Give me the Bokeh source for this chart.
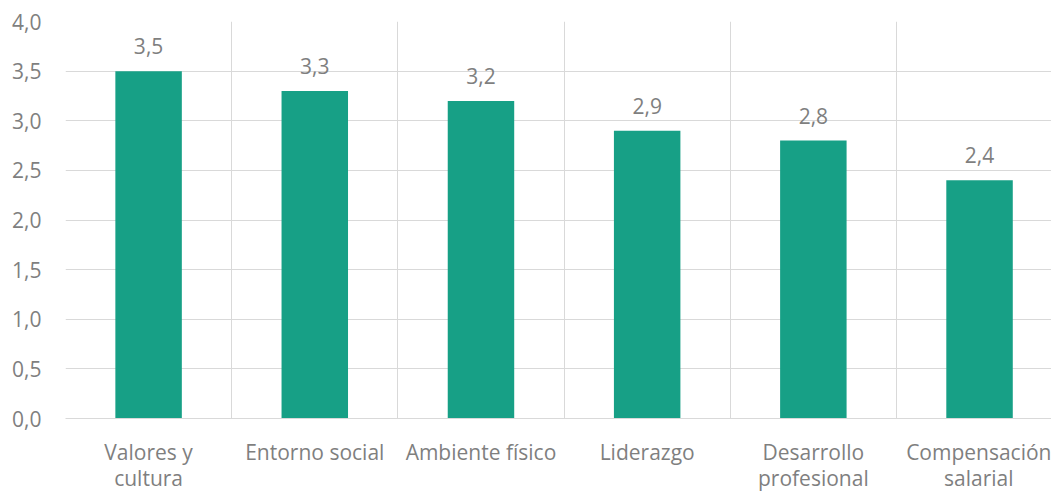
from bokeh.plotting import figure
from bokeh.models import Range1d, FixedTicker, CustomJSTickFormatter, ColumnDataSource
from bokeh.core.properties import value
from bokeh.embed import file_html
from bokeh.resources import INLINE

categories = ["Valores y\ncultura", "Entorno social", "Ambiente físico", "Liderazgo",
              "Desarrollo\nprofesional", "Compensación\nsalarial"]
values = [3.5, 3.3, 3.2, 2.9, 2.8, 2.4]
y_ticks = [0.0, 0.5, 1.0, 1.5, 2.0, 2.5, 3.0, 3.5, 4.0]

FONT = "Open Sans"
FS = "21px"
TEXT_COLOR = "#7f7f7f"
GRID = "#d9d9d9"
BAR = "#17a086"

xs = [i + 0.5 for i in range(len(categories))]
labels = [f"{v:.1f}".replace(".", ",") for v in values]
src = ColumnDataSource(dict(x=xs, top=values, label=labels))

p = figure(width=1051, height=495, output_backend="svg", toolbar_location=None,
           x_range=Range1d(0, 5.933), y_range=Range1d(0, 4.0),
           min_border_left=65, min_border_right=0, min_border_top=21, min_border_bottom=74)
p.outline_line_color = None
p.background_fill_color = "white"

p.vbar(x="x", top="top", width=0.4, bottom=0, source=src, color=BAR, line_color=None)
p.text(x="x", y="top", text="label", source=src, text_align="center", text_baseline="middle",
       y_offset=-25, text_font=value(FONT), text_font_size=FS, text_color=TEXT_COLOR)

# grids
p.xgrid.ticker = FixedTicker(ticks=list(range(len(categories) + 1)))
p.xgrid.grid_line_color = GRID
p.ygrid.ticker = FixedTicker(ticks=y_ticks)
p.ygrid.grid_line_color = GRID

# y axis
p.yaxis.ticker = FixedTicker(ticks=y_ticks)
p.yaxis.formatter = CustomJSTickFormatter(code="return tick.toFixed(1).replace('.', ',');")
p.yaxis.axis_line_color = None
p.yaxis.major_tick_line_color = None
p.yaxis.minor_tick_line_color = None
p.yaxis.major_tick_out = 0
p.yaxis.major_label_standoff = 24
p.yaxis.major_label_text_font = FONT
p.yaxis.major_label_text_font_size = FS
p.yaxis.major_label_text_color = TEXT_COLOR

# x axis
p.xaxis.ticker = FixedTicker(ticks=xs)
p.xaxis.formatter = CustomJSTickFormatter(args=dict(labels=categories),
                                          code="return labels[Math.round(tick - 0.5)];")
p.xaxis.axis_line_color = GRID
p.xaxis.major_tick_line_color = None
p.xaxis.minor_tick_line_color = None
p.xaxis.major_tick_in = 0
p.xaxis.major_tick_out = 0
p.xaxis.major_label_standoff = 19
p.xaxis.major_label_text_font = FONT
p.xaxis.major_label_text_font_size = FS
p.xaxis.major_label_text_color = TEXT_COLOR
p.xaxis.major_label_text_line_height = 0.95

open("out.html", "w").write(file_html(p, INLINE))
